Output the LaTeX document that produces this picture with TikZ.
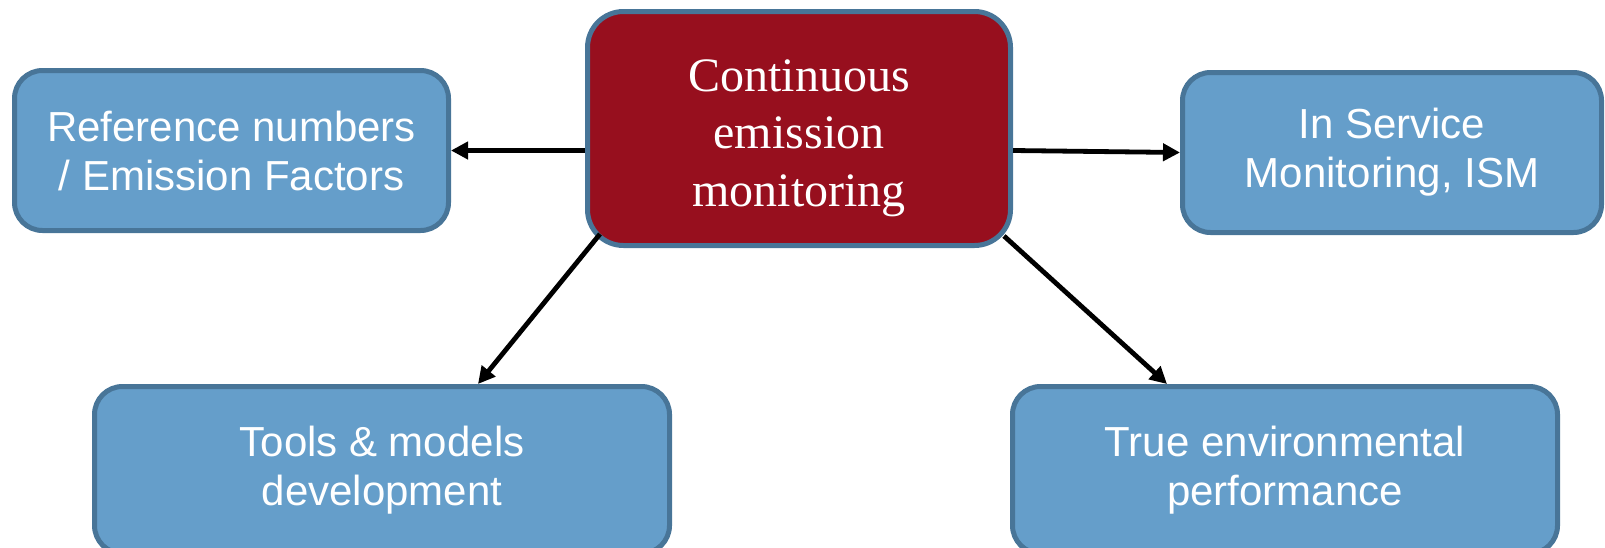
\documentclass[tikz,border=0pt]{standalone}
\usepackage{fontspec}
\setmainfont{Liberation Serif}
\newfontfamily\arialfont{Liberation Sans}
\usetikzlibrary{arrows.meta,calc}
\definecolor{boxblue}{RGB}{101,158,202}
\definecolor{boxedge}{RGB}{72,117,152}
\definecolor{cemred}{RGB}{151,15,30}
\begin{document}
\begin{tikzpicture}[x=0.5pt,y=-0.5pt,
    topic/.style={draw=boxedge,line width=2.5pt,fill=boxblue,rounded corners=14pt,
      text=white,align=center,inner sep=0pt,
      font=\arialfont\fontsize{21}{24.5}\selectfont},
    hub/.style={topic,fill=cemred,rounded corners=18pt,
      font=\fontsize{24}{28.7}\selectfont},
    link/.style={line width=2.4pt,-{Triangle[length=8.5pt,width=8.5pt]}}]
  \useasboundingbox (0,0) rectangle (1605,547);
  \node [hub,minimum width=211.5pt,minimum height=117pt] (cem) at (799,128.5)
    {\rule{0pt}{25.5pt}Continuous\\ emission\\ monitoring};
  \node [topic,minimum width=217pt,minimum height=80pt] (refnum) at (231.5,150.5)
    {Reference numbers\\ / Emission Factors};
  \node [topic,minimum width=209.5pt,minimum height=80pt] (ism) at (1392,152.5)
    {In Service\\ Monitoring, ISM};
  \node [topic,minimum width=287.5pt,minimum height=83.5pt] (tools) at (382,470)
    {Tools \& models\\ development};
  \node [topic,minimum width=272.5pt,minimum height=83.5pt] (truep) at (1285,470)
    {True environmental\\ performance};
  \draw [link] (cem.west |- refnum.east) -- (refnum.east);
  \draw [link] (cem.east |- refnum.east) -- (ism.west);
  \draw [link] ($(cem.south west)+(15,-14)$) -- ($(tools.north)+(96,0)$);
  \draw [link] ($(cem.south east)+(-9,-12)$) -- ($(truep.north)+(-118,0)$);
\end{tikzpicture}
\end{document}
